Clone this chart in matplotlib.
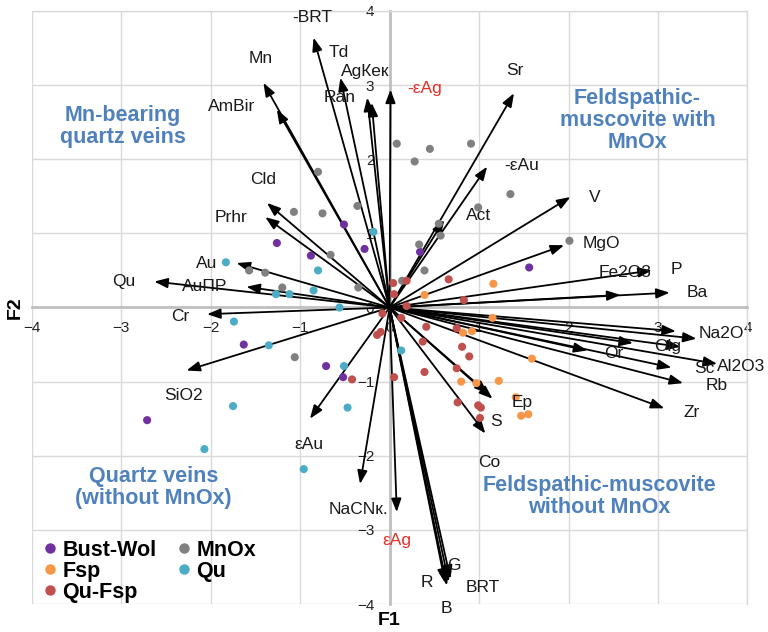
import matplotlib
matplotlib.use('Agg')
import matplotlib.pyplot as plt
from matplotlib.lines import Line2D

plt.rcParams['font.family'] = ['Liberation Sans', 'DejaVu Sans']

# variable loadings on F1 / F2 (arrows)
var_names = ['-BRT', 'Td', 'AgКек', 'Ran', '-εAg', 'Mn', 'AmBir', 'Cld', 'Prhr',
             'Au', 'AuПР', 'Qu', 'Cr', 'SiO2', 'εAu', 'NaCNк.', 'εAg', 'Sr',
             '-εAu', 'Act', 'V', 'MgO', 'P', 'Fe2O3', 'Ba', 'K2O*', 'Na2O',
             'Ab*', 'Olg', 'Or', 'Sc', 'Al2O3', 'Rb', 'Zr', 'Ep', 'S', 'Co',
             'G', 'R', 'B', 'BRT']
var_f1 = [-0.85, -0.55, -0.25, -0.20, 0.01, -1.41, -1.26, -1.37, -1.39,
          -1.71, -1.60, -2.63, -2.04, -2.27, -0.89, -0.33, 0.08, 1.39,
          1.09, 0.61, 2.02, 1.95, 2.93, 2.58, 3.13, 3.20, 3.43,
          3.25, 2.72, 2.21, 3.15, 3.66, 3.28, 3.07, 1.15, 1.10, 1.07,
          0.68, 0.62, 0.64, 0.66]
var_f2 = [3.64, 3.10, 2.83, 2.76, 2.94, 3.03, 2.67, 1.41, 1.22,
          0.60, 0.28, 0.35, -0.09, -0.85, -1.50, -2.38, -2.76, 2.89,
          1.90, 1.18, 1.49, 0.84, 0.50, 0.17, 0.20, -0.32, -0.42,
          -0.53, -0.48, -0.58, -0.81, -0.76, -1.02, -1.36, -1.23, -1.16, -1.70,
          -3.66, -3.71, -3.75, -3.70]
hidden_labels = ['K2O*', 'Ab*']
red_labels = ['-εAg', 'εAg']

# sample scores
bust_f1 = [-0.51, -1.26, -0.88, -0.28, 0.34, 1.56, -1.63, -0.71, -0.52, -2.71]
bust_f2 = [1.12, 0.87, 0.70, 0.79, 0.75, 0.54, -0.50, -0.79, -0.94, -1.52]

mnox_f1 = [0.08, 0.45, 0.91, 0.28, 1.35, 0.99, 0.55, 0.57, 0.33, 2.01, 0.39,
           0.14, -0.80, -1.07, -0.75, -0.36, -0.66, -1.57, -1.39, -1.20, -0.35, -1.06]
mnox_f2 = [2.21, 2.14, 2.21, 1.97, 1.53, 1.35, 1.13, 0.97, 0.85, 0.90, 0.50,
           0.36, 1.83, 1.29, 1.27, 1.37, 0.71, 0.50, 0.47, 0.27, 0.27, -0.67]

fsp_f1 = [1.16, 0.39, 1.15, 0.82, 0.92, 1.59, 0.80, 0.97, 1.22, 1.41, 1.47, 1.55]
fsp_f2 = [0.32, 0.17, -0.14, -0.34, -0.32, -0.69, -1.00, -1.02, -0.99, -1.21, -1.46, -1.44]

qu_f1 = [-0.18, -1.83, -0.80, -1.27, -1.12, -0.85, -0.56, -1.74, -1.35, -0.51,
         0.13, -1.75, -0.47, -2.07, -0.96]
qu_f2 = [1.02, 0.61, 0.50, 0.18, 0.18, 0.23, 0.00, -0.19, -0.51, -0.79,
         -0.58, -1.33, -1.35, -1.91, -2.18]

qufsp_f1 = [0.66, 0.83, 0.19, 0.04, 0.05, 0.19, -0.08, 0.13, 0.41, 0.75, 0.37, 0.81,
            0.89, -0.10, -0.14, -0.42, 0.05, 0.39, 0.75, 0.76, 0.99, 1.02, 1.01]
qufsp_f2 = [0.38, 0.10, 0.36, 0.33, 0.18, 0.02, -0.08, -0.14, -0.26, -0.28, -0.46, -0.53,
            -0.66, -0.33, -0.37, -0.97, -0.94, -0.87, -0.82, -1.28, -1.32, -1.35, -1.49]

# label offsets from arrow tips, in pixels (right, down)
label_offsets = {
    '-BRT': (-1, -20), 'Td': (-2, -25), 'AgКек': (-2, -26), 'Ran': (-32, -5),
    '-εAg': (34, -1), 'Mn': (-3, -24), 'AmBir': (-45, -3), 'Cld': (-4, -23),
    'Prhr': (-34, 0), 'Au': (-30, 0), 'AuПР': (-42, 0), 'Qu': (-31, 0),
    'Cr': (-27, 2), 'SiO2': (-3, 25), 'εAu': (-1, 26), 'NaCNк.': (-2, 26),
    'εAg': (0, 28), 'Sr': (1, -23), '-εAu': (35, -1), 'Act': (34, -5),
    'V': (24, 0), 'MgO': (37, -2), 'P': (25, -1), 'Fe2O3': (5, -22),
    'Ba': (28, 0), 'Na2O': (25, -5), 'Olg': (35, 3), 'Or': (26, 3),
    'Sc': (33, 1), 'Al2O3': (24, 3), 'Rb': (34, 2), 'Zr': (27, 4),
    'Ep': (30, 4), 'S': (8, 28), 'Co': (4, 29), 'G': (3, -13),
    'R': (-18, 0), 'B': (0, 23), 'BRT': (34, 6),
}

groups = [
    ('Bust-Wol', bust_f1, bust_f2, '#7030A0'),
    ('MnOx', mnox_f1, mnox_f2, '#808080'),
    ('Fsp', fsp_f1, fsp_f2, '#F79646'),
    ('Qu', qu_f1, qu_f2, '#4BACC6'),
    ('Qu-Fsp', qufsp_f1, qufsp_f2, '#C0504D'),
]


def biplot():
    fig = plt.figure(figsize=(7.68, 6.32), dpi=100)
    ax = fig.add_axes([0.0413, 0.0443, 0.932, 0.9383])
    ax.set_xlim(-4, 4)
    ax.set_ylim(-4, 4)
    ax.set_xticks(range(-4, 5))
    ax.set_yticks(range(-4, 5))
    ax.grid(color='#D9D9D9', lw=1)
    ax.set_axisbelow(True)

    ax.spines['left'].set_position(('data', 0))
    ax.spines['bottom'].set_position(('data', 0))
    for s in ['left', 'bottom']:
        ax.spines[s].set_color('#BFBFBF')
        ax.spines[s].set_linewidth(2)
    for s in ['top', 'right']:
        ax.spines[s].set_color('#D9D9D9')
        ax.spines[s].set_linewidth(1)
    ax.tick_params(length=0, labelsize=11, labelcolor='#222222')
    ax.tick_params(axis='x', pad=10)
    ax.tick_params(axis='y', pad=11)

    # arrows
    for name, x, y in zip(var_names, var_f1, var_f2):
        ax.annotate('', xy=(x, y), xytext=(0, 0),
                    arrowprops=dict(arrowstyle='-|>,head_length=0.8,head_width=0.3',
                                    color='black', lw=1.3, shrinkA=0, shrinkB=0,
                                    mutation_scale=10), zorder=3)
        if name in hidden_labels:
            continue
        dx, dy = label_offsets[name]
        col = '#E8302A' if name in red_labels else '#1a1a1a'
        ax.annotate(name, xy=(x, y), xytext=(dx, -dy), textcoords='offset pixels',
                    ha='center', va='center', fontsize=12.5, color=col, zorder=5)

    # samples
    for label, xs, ys, c in groups:
        ax.scatter(xs, ys, s=34, color=c, edgecolors='none', zorder=4)

    # quadrant captions
    blue = '#4F81BD'
    kw = dict(ha='center', va='center', color=blue, fontsize=15.5,
              fontweight='bold', linespacing=1.05)
    ax.text(-2.98, 2.44, 'Mn-bearing\nquartz veins', **kw)
    ax.text(2.77, 2.52, 'Feldspathic-\nmuscovite with\nMnOx', **kw)
    ax.text(-2.64, -2.43, 'Quartz veins\n(without MnOx)', **kw)
    ax.text(2.34, -2.55, 'Feldspathic-muscovite\nwithout MnOx', **kw)

    ax.text(0.5, -0.027, 'F1', transform=ax.transAxes, ha='center', va='center',
            fontsize=14, fontweight='bold')
    ax.text(-0.023, 0.5, 'F2', transform=ax.transAxes, ha='center', va='center',
            fontsize=14, fontweight='bold', rotation=90)

    # legend (column order)
    order = ['Bust-Wol', 'Fsp', 'Qu-Fsp', 'MnOx', 'Qu']
    colors = {g[0]: g[3] for g in groups}
    handles = [Line2D([], [], marker='o', ls='', color=colors[n], markersize=7.5,
                      markeredgewidth=0) for n in order]
    ax.legend(handles, order, ncol=2, loc='upper left', bbox_to_anchor=(0.016, 0.108),
              frameon=False, prop={'weight': 'bold', 'size': 15.5},
              handlelength=0.6, handletextpad=0.3, columnspacing=0.95,
              labelspacing=0.0, borderpad=0, borderaxespad=0)

    fig.savefig('out.png', dpi=100)


if __name__ == '__main__':
    biplot()
